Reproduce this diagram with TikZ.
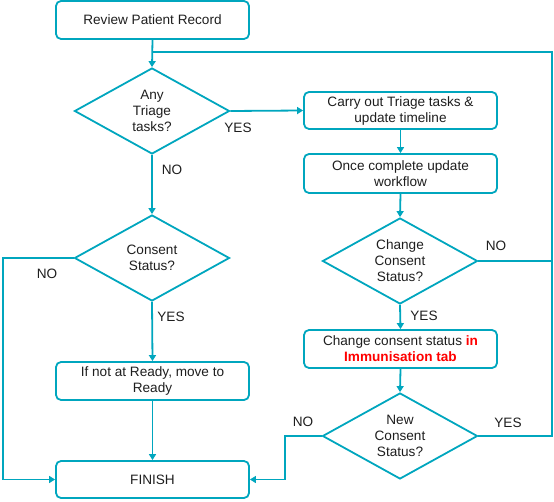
\documentclass[tikz,border=0pt]{standalone}
\usepackage{fontspec}
\setmainfont{Liberation Sans}
\usetikzlibrary{shapes.geometric,arrows.meta}
\definecolor{flow}{RGB}{0,166,190}
\definecolor{txt}{RGB}{30,30,30}
\definecolor{hot}{RGB}{255,0,0}
\begin{document}
\begin{tikzpicture}[x=1pt,y=-1pt,
  every node/.style={font=\fontsize{13.6}{16}\selectfont, text=txt},
  procbox/.style={draw=flow, line width=1.8pt, rounded corners=5pt, minimum width=193pt, align=center, inner sep=0pt},
  decide/.style={draw=flow, line width=1.8pt, diamond, aspect=1.8, inner sep=0pt, minimum width=155pt, minimum height=86pt, align=center},
  conn/.style={draw=flow, line width=1.8pt},
  arr/.style={conn, -{Triangle[length=6pt,width=7pt]}},
  lbl/.style={inner sep=0pt}
]
\useasboundingbox (0,0) rectangle (554,502);
\node[procbox, minimum height=38pt] (r1) at (152.5,20) {Review Patient Record};
\node[decide] (d1) at (152,111) {Any\\Triage\\tasks?};
\node[procbox, minimum height=37pt] (b2) at (400.5,110.5) {Carry out Triage tasks \&\\update timeline};
\node[procbox, minimum height=39pt] (b3) at (400.5,173.5) {Once complete update\\workflow};
\node[decide] (d2) at (400,261) {Change\\Consent\\Status?};
\node[decide] (d0) at (152,258) {Consent\\Status?};
\node[procbox, minimum height=38pt] (b4) at (400.5,349) {Change consent status \textcolor{hot}{\textbf{in}}\\\textcolor{hot}{\textbf{Immunisation tab}}};
\node[procbox, minimum height=38pt] (b5) at (152.5,381) {If not at Ready, move to\\Ready};
\node[procbox, minimum height=37pt] (fin) at (152.5,479.5) {FINISH};
\node[decide] (d3) at (400,436) {New\\Consent\\Status?};

\coordinate (j1) at (152,52);
\coordinate (rr) at (552,52);
\coordinate (ll) at (3,258);
\coordinate (mm) at (285,437);

\draw[arr] (r1.south) -- (d1.north);
\draw[conn] (d3.east) -- (d3.east -| rr) -- (rr) -- (j1);
\draw[conn] (d2.east) -- (d2.east -| rr);
\draw[arr] (d1.east) -- (b2.west);
\draw[arr] (d1.south) -- (d0.north);
\draw[arr] (b2.south) -- (b3.north);
\draw[arr] (b3.south) -- (d2.north);
\draw[arr] (d2.south) -- (b4.north);
\draw[arr] (b4.south) -- (d3.north);
\draw[arr] (d0.south) -- (b5.north);
\draw[arr] (b5.south) -- (fin.north);
\draw[arr] (d0.west) -- (ll) |- (fin.west);
\draw[arr] (d3.west) -- (d3.west -| mm) |- (fin.east);

\node[lbl] (y1) at (238,128) {YES};
\node[lbl] (n1) at (172,170) {NO};
\node[lbl] (n0) at (47,274) {NO};
\node[lbl] (y0) at (171,317) {YES};
\node[lbl] (n2) at (496,246) {NO};
\node[lbl] (y2) at (424,316) {YES};
\node[lbl] (n3) at (303,422) {NO};
\node[lbl] (y3) at (508,423) {YES};
\end{tikzpicture}
\end{document}
